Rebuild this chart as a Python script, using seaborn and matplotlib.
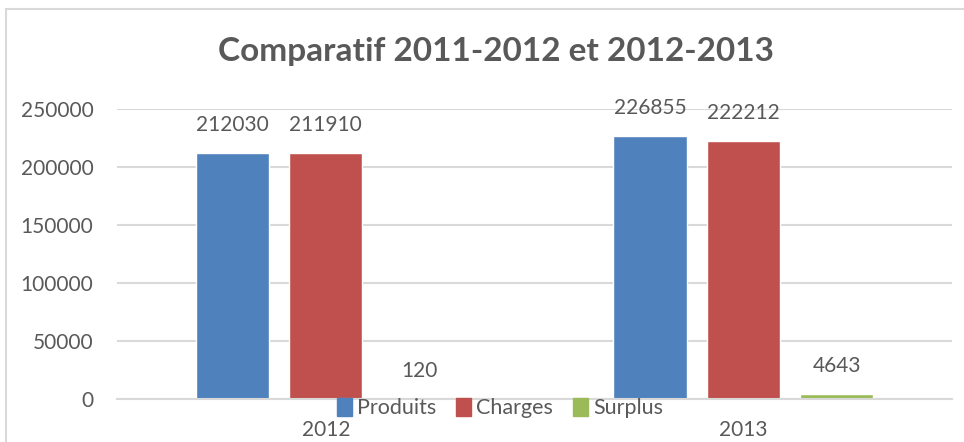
"""
Comparatif 2011-2012 et 2012-2013 - bar chart
"""

import pandas as pd
import matplotlib
matplotlib.use('Agg')
import matplotlib.pyplot as plt
from matplotlib.patches import Rectangle
import seaborn as sns

# Data
years = ['2012', '2013']
series = ['Produits', 'Charges', 'Surplus']
produits = [212030, 226855]
charges = [211910, 222212]
surplus = [120, 4643]
y_ticks = [0, 50000, 100000, 150000, 200000, 250000]

colors = ['#4F81BD', '#C0504D', '#9BBB59']
text_color = '#595959'
grid_color = '#D9D9D9'

df = pd.DataFrame({
    'year': years * 3,
    'serie': [s for s in series for _ in years],
    'value': produits + charges + surplus,
})

sns.set_theme(style='white')
plt.rcParams['font.family'] = ['Lato', 'DejaVu Sans']

fig = plt.figure(figsize=(9.64, 4.42), dpi=100)
ax = fig.add_axes([0.1214, 0.0973, 0.8662, 0.6561])

sns.barplot(data=df, x='year', y='value', hue='serie', order=years,
            hue_order=series, palette=colors, width=0.67, gap=0.215,
            saturation=1, ax=ax, legend=False)

for container in ax.containers:
    ax.bar_label(container, fmt='%d', padding=13, fontsize=15, color=text_color)

ax.set_ylim(0, 250000)
ax.set_yticks(y_ticks)
ax.set_yticklabels([str(t) for t in y_ticks])
ax.set_xlim(-0.5, 1.5)
ax.set_xlabel('')
ax.set_ylabel('')
ax.yaxis.grid(True, color=grid_color, linewidth=1.5)
ax.set_axisbelow(True)
for side in ['top', 'right', 'left']:
    ax.spines[side].set_visible(False)
ax.spines['bottom'].set_color(grid_color)
ax.spines['bottom'].set_linewidth(1.5)
ax.tick_params(axis='y', length=0, pad=17, labelsize=15, labelcolor=text_color)
ax.tick_params(axis='x', length=0, pad=15, labelsize=15, labelcolor=text_color)

# legend overlapping the axis area, like the original
handles = [Rectangle((0, 0), 1, 1, color=c) for c in colors]
fig.legend(handles, series, loc='center', bbox_to_anchor=(500 / 964, 1 - 408 / 442),
           ncol=3, frameon=False, fontsize=15.5, handlelength=0.7, handleheight=0.9,
           handletextpad=0.25, columnspacing=0.9, labelcolor=text_color)

fig.text(496 / 964, 1 - 52 / 442, 'Comparatif 2011-2012 et 2012-2013',
         ha='center', va='center', fontsize=24, fontweight='bold', color=text_color)

# chart frame
fig.patches.append(Rectangle((6 / 964, -0.1), 1.1, 1 - 9 / 442 + 0.1,
                             transform=fig.transFigure, fill=False,
                             edgecolor=grid_color, linewidth=1.5))

fig.savefig('out.png', dpi=100)
